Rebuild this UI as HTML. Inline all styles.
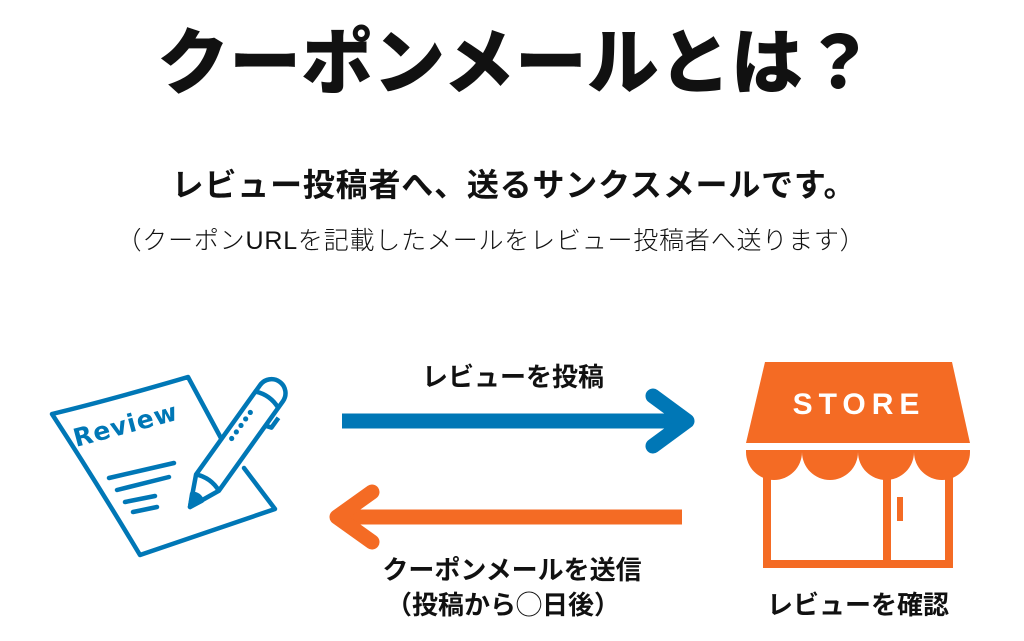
<!DOCTYPE html>
<html><head><meta charset="utf-8">
<style>
body{margin:0;width:1024px;height:641px;background:#fff;position:relative;overflow:hidden;font-family:"Liberation Sans","Noto Sans CJK JP",sans-serif;color:#111}
.t{position:absolute;left:0;width:1024px;text-align:center;white-space:nowrap}
</style></head><body>
<div class="t" style="top:21px;font-size:72px;font-weight:900;line-height:86px;left:4px">クーポンメールとは？</div>
<div class="t" style="top:164px;font-size:32px;font-weight:bold;line-height:42px;letter-spacing:0.8px;left:2px">レビュー投稿者へ、送るサンクスメールです。</div>
<div class="t" style="top:225px;font-size:25px;font-weight:300;line-height:32px;letter-spacing:0.8px;left:-21px">（クーポンURLを記載したメールをレビュー投稿者へ送ります）</div>
<div class="t" style="top:360px;font-size:26px;font-weight:bold;line-height:34px;left:0;width:1026px">レビューを投稿</div>
<div class="t" style="top:553px;font-size:26px;font-weight:bold;line-height:34px;left:0;width:1024px">クーポンメールを送信</div>
<div class="t" style="top:588px;font-size:26px;font-weight:bold;line-height:34px;left:0;width:1006px">（投稿から◯日後）</div>
<div style="position:absolute;left:758px;width:200px;top:588px;font-size:26px;font-weight:bold;line-height:34px;text-align:center;white-space:nowrap">レビューを確認</div>
<svg width="1024" height="641" style="position:absolute;left:0;top:0">
<g fill="none" stroke-width="15" stroke-linecap="round" stroke-linejoin="round">
<line x1="342" y1="421" x2="684" y2="421" stroke="#0077b6" stroke-linecap="butt"/>
<polyline points="653,396 687,421 653,446" stroke="#0077b6"/>
<line x1="682" y1="517" x2="340" y2="517" stroke="#f46b24" stroke-linecap="butt"/>
<polyline points="372,492 337,517 372,542" stroke="#f46b24"/>
</g>
<g fill="#f46b24">
<polygon points="765,362 952,362 970,443 746,443"/>
<path d="M746,450 H970 V452 A28,28 0 0 1 914,452 A28,28 0 0 1 858,452 A28,28 0 0 1 802,452 A28,28 0 0 1 746,452 Z"/>
<rect x="763" y="475" width="8" height="93"/>
<rect x="945" y="475" width="8" height="93"/>
<rect x="763" y="560" width="190" height="8"/>
<rect x="883" y="475" width="8" height="93"/>
<rect x="897" y="497" width="6" height="24"/>
</g>
<text x="859" y="414" fill="#fff" font-family="Liberation Sans,sans-serif" font-weight="bold" font-size="30" text-anchor="middle" letter-spacing="6">STORE</text>
<g fill="none" stroke="#0077b6" stroke-width="4.5" stroke-linecap="round" stroke-linejoin="round">
<path d="M52,414 Q110,400 188,377 L222,440 M244,468 L275,509 L140,555 Q95,480 52,414"/>
<path d="M109,478 L174,463 M117,490 L169,477 M125,502 L155,496 M133,512 L157,507"/>
</g>
<text x="76" y="447" fill="#0077b6" font-family="DejaVu Sans,sans-serif" font-weight="bold" font-size="25" transform="rotate(-15 76 447)" letter-spacing="1">Review</text>
<g transform="translate(190,507) rotate(-54.4)" fill="#fff" stroke="#0077b6" stroke-width="4.5" stroke-linejoin="round">
<path d="M0,0 L30,-14 L140,-14 A14,14 0 0 1 140,14 L30,14 Z"/>
<path d="M0,0 L12,-6 Q16,0 12,6 Z" fill="#0077b6"/>
<path d="M30,-14 Q36,0 30,14" fill="none"/>
<path d="M132,-14 Q138,0 132,14" fill="none"/>
<path d="M110,14 L112,20 L124,20" fill="none"/>
<g fill="#0077b6" stroke="none"><circle cx="80" cy="-6" r="2.6"/><circle cx="88" cy="-6" r="2.6"/><circle cx="96" cy="-6" r="2.6"/><circle cx="104" cy="-6" r="2.6"/><circle cx="112" cy="-6" r="2.6"/></g>
</g>
</svg>
</body></html>
